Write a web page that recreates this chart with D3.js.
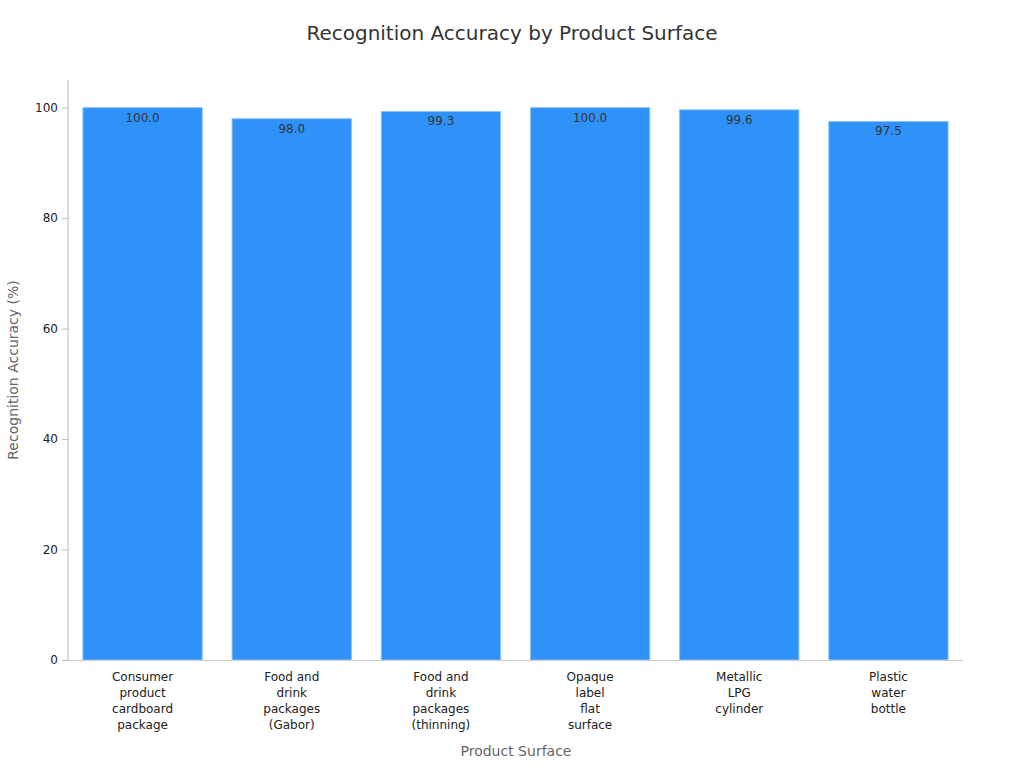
<!DOCTYPE html><html><head><meta charset="utf-8">
<script src="https://cdn.jsdelivr.net/npm/d3@7"></script>
<style>body{margin:0;background:#fff;font-family:"DejaVu Sans",sans-serif}</style></head><body>
<svg id="c" width="1024" height="768"></svg>
<script>
const categories=[["Consumer","product","cardboard","package"],["Food and","drink","packages","(Gabor)"],["Food and","drink","packages","(thinning)"],["Opaque","label","flat","surface"],["Metallic","LPG","cylinder"],["Plastic","water","bottle"]];
const values=[100.0,98.0,99.3,100.0,99.6,97.5];
const yTicks=[0,20,40,60,80,100];
const svg=d3.select("#c");
const m={l:68,r:963,t:80,b:660};
const x=d3.scaleBand().domain(d3.range(values.length)).range([m.l,m.r]).paddingInner(0.2).paddingOuter(0.1);
const y=d3.scaleLinear().domain([0,105]).range([m.b,m.t]);
svg.append("text").attr("x",512).attr("y",40).attr("text-anchor","middle").attr("font-size",20).attr("fill","#333").text("Recognition Accuracy by Product Surface");
svg.selectAll("rect.b").data(values).join("rect").attr("x",(d,i)=>x(i)).attr("width",x.bandwidth()).attr("y",d=>y(d)).attr("height",d=>y(0)-y(d)).attr("fill","#2f92f8").attr("stroke","#8fc2f5").attr("stroke-width",1);
svg.selectAll("text.v").data(values).join("text").attr("x",(d,i)=>x(i)+x.bandwidth()/2).attr("y",d=>y(d)+14).attr("text-anchor","middle").attr("font-size",12).attr("fill","#333").text(d=>d.toFixed(1));
const ya=svg.append("g").attr("transform",`translate(${m.l},0)`).call(d3.axisLeft(y).tickValues(yTicks).tickSize(6).tickPadding(4));
ya.selectAll("text").attr("font-size",12).attr("fill","#222").attr("font-family","DejaVu Sans");
ya.selectAll("line,path").attr("stroke","#bbb");
ya.select("path").attr("d",`M0,${m.b}V${m.t}`);
svg.append("line").attr("x1",m.l).attr("x2",m.r).attr("y1",m.b+0.5).attr("y2",m.b+0.5).attr("stroke","#ccc");
categories.forEach((c,i)=>{const t=svg.append("text").attr("text-anchor","middle").attr("font-size",12).attr("fill","#222");
c.forEach((l,j)=>t.append("tspan").attr("x",x(i)+x.bandwidth()/2).attr("y",681+j*16).text(l));});
svg.append("text").attr("x",516).attr("y",756).attr("text-anchor","middle").attr("font-size",14).attr("fill","#666").text("Product Surface");
svg.append("text").attr("transform","translate(18,370) rotate(-90)").attr("text-anchor","middle").attr("font-size",14).attr("fill","#666").text("Recognition Accuracy (%)");
</script></body></html>
